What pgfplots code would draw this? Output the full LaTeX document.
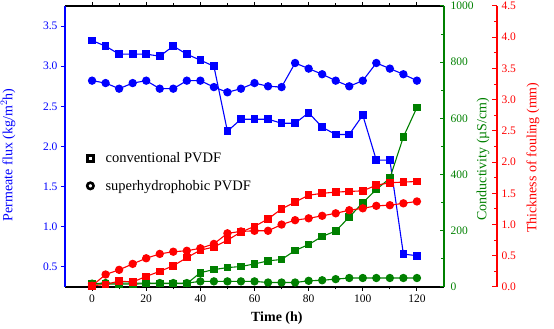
\documentclass[border=0pt]{standalone}
\usepackage{pgfplots}
\pgfplotsset{compat=1.18}
\usepackage{pgfplotstable}
\usepackage{fontspec}
\setmainfont{Liberation Serif}
\definecolor{cblue}{RGB}{0,0,255}
\definecolor{cgreen}{RGB}{0,128,0}
\definecolor{cred}{RGB}{255,0,0}
\pgfplotstableread{
t  fc    fs    gc   gs   rc    rs
0   3.32  2.82  10   12   0.02  0.02
5   3.25  2.79  10   14   0.04  0.20
10  3.15  2.72  10   14   0.095 0.275
15  3.15  2.79  10   14   0.08  0.37
20  3.15  2.82  12   14   0.17  0.46
25  3.125 2.72  12   14   0.25  0.53
30  3.25  2.72  12   14   0.34  0.565
35  3.15  2.82  12   14   0.47  0.58
40  3.075 2.82  51   20   0.59  0.62
45  3.0   2.74  62   20   0.64  0.69
50  2.19  2.675 69   20   0.75  0.86
55  2.34  2.72  73   20   0.88  0.89
60  2.34  2.79  82   20   0.97  0.90
65  2.34  2.75  93   16   1.09  0.90
70  2.29  2.74  98   16   1.25  1.00
75  2.29  3.04  130  16   1.36  1.07
80  2.42  2.97  151  22   1.47  1.10
85  2.24  2.90  180  24   1.50  1.14
90  2.15  2.82  199  28   1.52  1.18
95  2.15  2.75  249  32   1.53  1.23
100 2.39  2.82  300  32   1.54  1.26
105 1.83  3.04  347  32   1.63  1.30
110 1.83  2.97  387  32   1.67  1.31
115 0.66  2.90  534  32   1.68  1.34
120 0.64  2.82  639  32   1.69  1.37
}\datatable
\pgfplotsset{
  common/.style={
    scale only axis, width=379pt, height=281pt,
    xmin=-10, xmax=130,
    /pgf/number format/assume math mode=true,
    /pgf/number format/1000 sep={},
    ticklabel style={font=\fontsize{11.5}{13}\selectfont},
    label style={font=\fontsize{14}{16}\selectfont},
  },
  sq/.style={mark=square*, mark size=3.3pt, line width=1.1pt, mark options={solid}},
  ci/.style={mark=*, mark size=3.6pt, line width=1.1pt, mark options={solid}},
}
\begin{document}
\begin{tikzpicture}
% ---------- flux (blue) ----------
\begin{axis}[common,
  ymin=0.25, ymax=3.75,
  separate axis lines,
  axis x line*=box, axis y line*=left,
  x axis line style={-, black, line width=1.2pt},
  y axis line style={-, cblue, line width=1.5pt},
  xtick={0,20,...,120}, minor x tick num=1,
  ytick={0.5,1.0,...,3.5}, minor y tick num=0,
  yticklabel style={cblue, /pgf/number format/fixed, /pgf/number format/fixed zerofill, /pgf/number format/precision=1},
  xtick pos=both, ytick pos=left,
  tick align=outside,
  major tick length=4pt, minor tick length=2.5pt,
  y tick style={cblue, line width=1pt},
  x tick style={black, line width=1pt},
  xlabel={\bfseries Time (h)},
  xlabel style={at={(axis description cs:0.559,-0.11)}, anchor=center},
  ylabel={Permeate flux (kg/m$^{2}$h)},
  ylabel style={cblue, at={(axis description cs:-0.150,0.47)}, anchor=center, rotate=0},
  legend style={at={(axis description cs:0.0580,0.409)}, anchor=west, draw=none, fill=none,
    inner sep=0pt, font=\fontsize{14.5}{16}\selectfont, row sep=12pt,
    /tikz/every odd column/.append style={column sep=10pt}},
  legend cell align=left,
]
\addplot[cblue, sq] table[x=t, y=fc] {\datatable};
\addplot[cblue, ci] table[x=t, y=fs] {\datatable};
\addlegendimage{only marks, mark=square*, mark size=3pt, draw=black, fill=white, line width=2.6pt}
\addlegendimage{only marks, mark=*, mark size=3.2pt, draw=black, fill=white, line width=2.6pt}
\legend{,,conventional PVDF,superhydrophobic PVDF}
\end{axis}
% ---------- conductivity (green) ----------
\begin{axis}[common,
  ymin=0, ymax=1000,
  axis y line*=right, axis x line=none,
  y axis line style={-, cgreen, line width=1.3pt},
  ytick={0,200,...,1000}, minor y tick num=1,
  tick align=inside,
  major tick length=4pt, minor tick length=3pt,
  y tick style={cgreen, line width=1pt},
  yticklabel style={cgreen, xshift=3pt},
  ylabel={Conductivity (\textmu S/cm)},
  ylabel style={cgreen, at={(axis description cs:1.103,0.455)}, anchor=center, rotate=0},
]
\addplot[cgreen, sq] table[x=t, y=gc] {\datatable};
\addplot[cgreen, ci] table[x=t, y=gs] {\datatable};
\end{axis}
% ---------- fouling thickness (red) data ----------
\begin{axis}[common,
  ymin=0, ymax=4.5,
  hide axis,
]
\addplot[cred, sq] table[x=t, y=rc] {\datatable};
\addplot[cred, ci] table[x=t, y=rs] {\datatable};
\end{axis}
% ---------- fouling thickness (red) axis ----------
\begin{axis}[
  scale only axis, width=10pt, height=281pt, at={(422pt,0pt)},
  xmin=0, xmax=1, ymin=0, ymax=4.5,
  /pgf/number format/assume math mode=true,
  ticklabel style={font=\fontsize{11.5}{13}\selectfont},
  axis y line*=right, axis x line=none,
  y axis line style={-, cred, line width=1.3pt},
  ytick={0,0.5,...,4.5}, minor y tick num=1,
  tick align=inside,
  major tick length=5pt, minor tick length=3.5pt,
  y tick style={cred, line width=1pt},
  yticklabel style={cred, xshift=1pt, /pgf/number format/fixed, /pgf/number format/fixed zerofill, /pgf/number format/precision=1},
  ylabel={Thickness of fouling (mm)},
  ylabel style={cred, font=\fontsize{14}{16}\selectfont, at={(axis description cs:4.6,0.46)}, anchor=center, rotate=0},
]
\addplot[draw=none, forget plot] coordinates {(0,0)};
\end{axis}
\pgfresetboundingbox
\path (-65pt,-42pt) rectangle (489pt,287pt);
\end{tikzpicture}
\end{document}
